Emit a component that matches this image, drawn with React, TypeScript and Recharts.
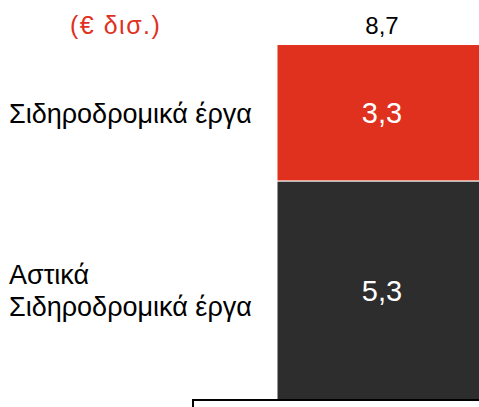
import { BarChart, Bar, XAxis, YAxis, LabelList } from 'recharts';

const categories = ['Έργα'];
const seriesNames = ['Αστικά\nΣιδηροδρομικά έργα', 'Σιδηροδρομικά έργα'];
const urbanValues = [5.3];
const railValues = [3.3];
const totals = [8.7];
const unitLabel = '(€ δισ.)';

const RED = '#E0301E';
const DARK = '#2D2D2D';

const chartData = categories.map((name, i) => ({
  name,
  urban: urbanValues[i],
  rail: railValues[i],
  total: totals[i],
}));

const fmt = (v: number) => v.toFixed(1).replace('.', ',');

function SeriesName({ y, height, text }: any) {
  const lines = String(text).split('\n');
  const cy = Number(y) + Number(height) / 2;
  const lineH = 32;
  const start = cy - ((lines.length - 1) * lineH) / 2;
  return (
    <text fontSize={27} fill="#000" dominantBaseline="central">
      {lines.map((l, i) => (
        <tspan key={i} x={9} y={start + i * lineH + 1}>
          {l}
        </tspan>
      ))}
    </text>
  );
}

export default function App() {
  return (
    <div
      style={{
        position: 'absolute',
        left: 0,
        top: 0,
        width: 479,
        height: 407,
        overflow: 'hidden',
        background: '#fff',
        fontFamily: '"Liberation Sans", Arial, sans-serif',
      }}
    >
      <div
        style={{
          position: 'absolute',
          left: 70,
          top: 9,
          color: RED,
          fontSize: 25,
          letterSpacing: 1.5,
          lineHeight: '32px',
        }}
      >
        {unitLabel}
      </div>
      <BarChart
        width={487}
        height={407}
        data={chartData}
        margin={{ top: 28, right: 0, bottom: 7, left: 277 }}
        barCategoryGap={0}
      >
        <XAxis dataKey="name" hide />
        <YAxis hide domain={[0, 9]} />
        <Bar dataKey="urban" stackId="a" fill={DARK} stroke="#fff" strokeWidth={1} isAnimationActive={false}>
          <LabelList dataKey="urban" position="center" fill="#fff" fontSize={29} formatter={(v: any) => fmt(Number(v))} />
          <LabelList content={(p: any) => <SeriesName {...p} text={seriesNames[0]} />} />
        </Bar>
        <Bar dataKey="rail" stackId="a" fill={RED} stroke="#fff" strokeWidth={1} isAnimationActive={false}>
          <LabelList dataKey="rail" position="center" fill="#fff" fontSize={29} formatter={(v: any) => fmt(Number(v))} />
          <LabelList content={(p: any) => <SeriesName {...p} text={seriesNames[1]} />} />
          <LabelList dataKey="total" position="top" offset={11} fill="#000" fontSize={24} formatter={(v: any) => fmt(Number(v))} />
        </Bar>
      </BarChart>
      <div
        style={{
          position: 'absolute',
          left: 192,
          top: 399,
          width: 320,
          height: 30,
          background: '#fff',
          border: '2px solid #000',
          boxSizing: 'border-box',
        }}
      />
    </div>
  );
}
